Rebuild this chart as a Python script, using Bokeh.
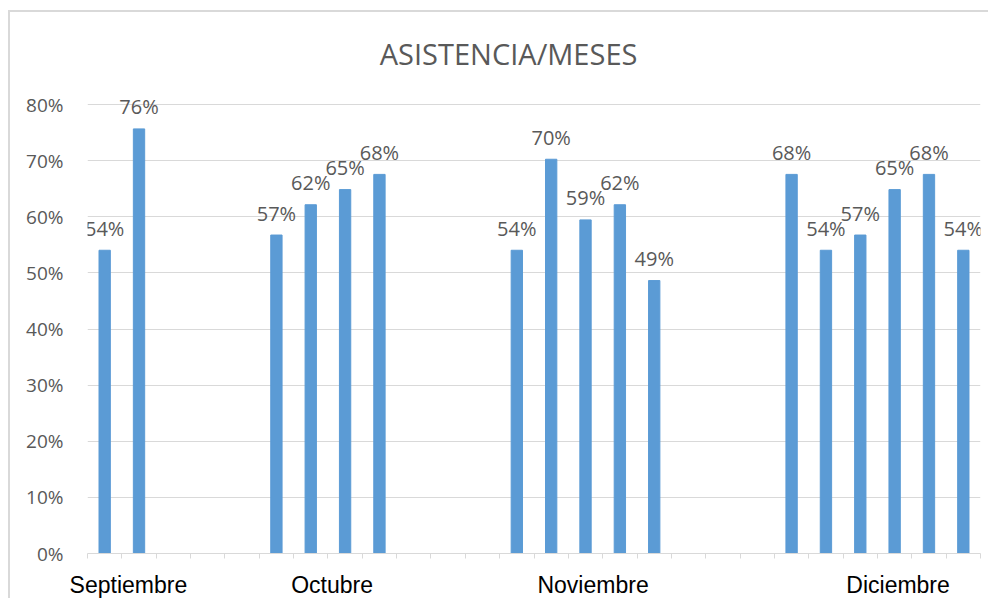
from bokeh.plotting import figure
from bokeh.models import FixedTicker, Range1d, ColumnDataSource
from bokeh.core.properties import value
from bokeh.embed import file_html
from bokeh.resources import INLINE

NA = float("nan")

# ---- data ----
title_text = "ASISTENCIA/MESES"
months = ["Septiembre", "Octubre", "Noviembre", "Diciembre"]
# one value per category slot of the sheet (blank cells = NA)
asistencia = [0.5405, 0.7568, NA, NA, NA,
              0.5676, 0.6216, 0.6486, 0.6757, NA, NA, NA,
              0.5405, 0.7027, 0.5946, 0.6216, 0.4865, NA, NA, NA,
              0.6757, 0.5405, 0.5676, 0.6486, 0.6757, 0.5405]
y_ticks = [0, 0.1, 0.2, 0.3, 0.4, 0.5, 0.6, 0.7, 0.8]
y_tick_labels = ["0%", "10%", "20%", "30%", "40%", "50%", "60%", "70%", "80%"]

# ---- layout ----
n_slots = len(asistencia)
month_label_pos = [1.19, 7.12, 14.72, 23.6]

xs = [i + 0.5 for i, v in enumerate(asistencia) if v == v]
vals = [v for v in asistencia if v == v]
labels = [f"{round(v * 100)}%" for v in vals]
src = ColumnDataSource(dict(x=xs, top=vals, label=labels))

p = figure(width=980, height=588, output_backend="svg", toolbar_location=None,
           x_range=Range1d(0, n_slots), y_range=Range1d(0, 0.95),
           min_border_left=77, min_border_right=10, min_border_top=8,
           min_border_bottom=45)
p.margin = (10, 0, 0, 8)
p.styles = {"border-left": "2px solid #d9d9d9", "border-top": "2px solid #d9d9d9"}
p.outline_line_color = None
p.background_fill_color = "white"
p.border_fill_color = "white"

p.vbar(x="x", top="top", width=0.33, bottom=0, source=src,
       fill_color="#5B9BD5", line_color="#5B9BD5")
p.text(x="x", y="top", text="label", source=src, text_align="center",
       text_baseline="alphabetic", y_offset=-22, text_color="#595959",
       text_font=value("Open Sans"), text_font_size="20px")

p.text(x=[12.26], y=[0.891], text=[title_text], text_align="center",
       text_baseline="alphabetic", text_color="#595959",
       text_font=value("Open Sans"), text_font_size="29px")

# y axis
p.yaxis.ticker = FixedTicker(ticks=y_ticks)
p.yaxis.major_label_overrides = {t: l for t, l in zip(y_ticks, y_tick_labels)}
p.yaxis.axis_line_color = None
p.yaxis.major_tick_line_color = None
p.yaxis.minor_tick_line_color = None
p.yaxis.major_label_standoff = 18
p.yaxis.major_label_text_color = "#595959"
p.yaxis.major_label_text_font = "Open Sans"
p.yaxis.major_label_text_font_size = "19px"

# x axis
p.xaxis.ticker = FixedTicker(ticks=month_label_pos, minor_ticks=list(range(n_slots + 1)))
p.xaxis.major_label_overrides = {t: m for t, m in zip(month_label_pos, months)}
p.xaxis.axis_line_color = "#d9d9d9"
p.xaxis.major_tick_line_color = None
p.xaxis.minor_tick_line_color = "#d9d9d9"
p.xaxis.minor_tick_in = 0
p.xaxis.minor_tick_out = 5
p.xaxis.major_label_standoff = 12
p.xaxis.major_label_text_color = "#000000"
p.xaxis.major_label_text_font = "Liberation Sans"
p.xaxis.major_label_text_font_size = "23px"

p.xgrid.grid_line_color = None
p.ygrid.grid_line_color = "#d9d9d9"
p.ygrid.ticker = FixedTicker(ticks=y_ticks)

open("out.html", "w").write(file_html(p, INLINE))
